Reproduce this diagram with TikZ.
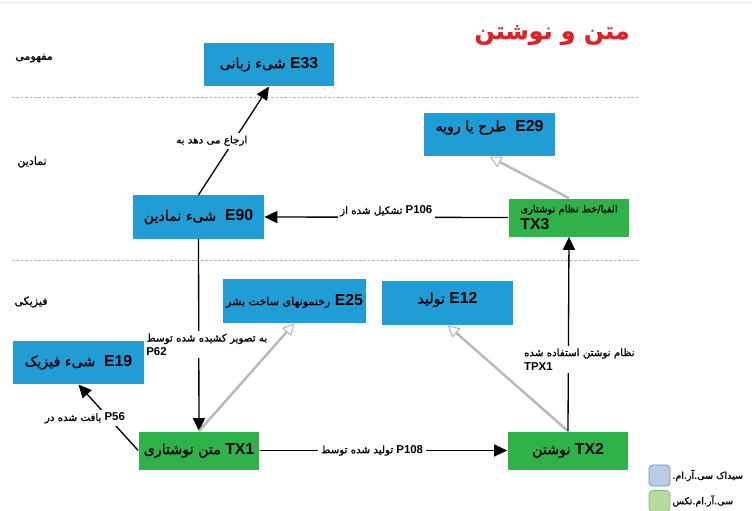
\documentclass[tikz,border=0pt]{standalone}
\usepackage{fontspec}
\setmainfont{Liberation Sans}
\newfontfamily\fa[Script=Arabic,Scale=0.9,FakeBold=0.9]{DejaVu Sans}
\TeXXeTstate=1
\usetikzlibrary{arrows.meta}
\newcommand{\per}[1]{{\fa\mdseries\beginR #1\endR}}
\definecolor{crmblue}{RGB}{33,157,214}
\definecolor{texgreen}{RGB}{47,178,74}
\definecolor{titlered}{RGB}{222,34,40}
\definecolor{keyblue}{RGB}{185,205,229}
\definecolor{keygreen}{RGB}{183,217,160}
\tikzset{
  crm/.style={fill=crmblue, minimum width=2.62cm, minimum height=0.87cm, inner sep=2pt, font=\bfseries\fontsize{9}{10}\selectfont},
  tex/.style={fill=texgreen, minimum width=2.42cm, minimum height=0.76cm, inner sep=2pt, font=\bfseries\fontsize{9}{10}\selectfont},
  rel/.style={line width=0.75pt, -{Triangle[length=0.26cm,width=0.24cm]}},
  isa/.style={draw=gray!55, line width=1.4pt, -{Triangle[open,length=0.24cm,width=0.24cm,fill=white,line width=0.6pt]}},
  lbl/.style={fill=white, inner sep=1.5pt, font=\bfseries\fontsize{6.5}{8}\selectfont},
  layer/.style={font=\fontsize{7}{9}\selectfont},
  sep/.style={gray!60, line width=0.5pt, dash pattern=on 1.5pt off 1pt},
  key/.style={rounded corners=2pt, minimum width=0.42cm, minimum height=0.42cm, inner sep=0pt}
}
\begin{document}
\begin{tikzpicture}[x=0.02cm,y=-0.02cm]
  \useasboundingbox (0,0) rectangle (752,511);
  \draw[gray!15] (0,2) -- (752,2);

  \node[text=titlered, font=\fontsize{15}{18}\selectfont] (title) at (552,35) {{\fa\bfseries\beginR متن و نوشتن\endR}};

  \draw[sep] (12,97) -- (639,97);
  \draw[sep] (12,260) -- (639,260);
  \node[layer] (concept) at (34,58) {\per{مفهومی}};
  \node[layer] (symbol) at (32,162) {\per{نمادین}};
  \node[layer] (phys) at (31,302) {\per{فیزیکی}};

  \node[crm] (e33) at (269,64.5) {\per{شیء زبانی} E33};
  \node[crm] (e90) at (198.5,217) {\per{شیء نمادین}\ \ E90};
  \node[crm, text depth=0.35cm] (e29) at (489.5,134.5) {\per{طرح یا رویه}\ \ E29};
  \node[tex, align=left] (tx3) at (569,217.5) {{\fontsize{6.3}{10}\selectfont\per{الفبا/خط نظام نوشتاری}}\\TX3};
  \node[crm] (e25) at (294.5,301) {{\fontsize{7}{10}\selectfont\per{رخنمونهای ساخت بشر}} E25};
  \node[crm, text depth=0.2cm] (e12) at (447.5,303) {\per{تولید} E12};
  \node[crm] (e19) at (78.5,362.5) {\per{شیء فیزیک}\ \ E19};
  \node[tex] (tx1) at (199,450.5) {\per{متن نوشتاری} TX1};
  \node[tex] (tx2) at (568,450.5) {\per{نوشتن} TX2};

  \draw[rel] (e90.north) -- node[lbl, pos=0.5, xshift=-0.44cm] (refers) {\per{ارجاع می دهد به}} (e33.south);
  \draw[rel] (tx3.west) -- node[lbl, yshift=0.12cm] (p106) {\per{تشکیل شده از} P106} (e90.east);
  \draw[isa] (tx3.north) -- (e29.south);
  \draw[rel] (e90.south) -- node[lbl, pos=0.55, xshift=0.16cm, align=left] (p62) {\per{به تصویر کشیده شده توسط}\\P62} (tx1.north);
  \draw[isa] (tx1.north) -- (e25.south);
  \draw[rel] (tx1.west) -- node[lbl, pos=0.49, xshift=-0.48cm] (p56) {\per{یافت شده در} P56} (e19.south);
  \draw[rel] (tx1.east) -- node[lbl, xshift=-0.23cm] (p108) {\per{تولید شده توسط} P108} (tx2.west);
  \draw[isa] (tx2.north) -- (e12.south);
  \draw[rel] (tx2.north) -- node[lbl, pos=0.37, xshift=0.22cm, align=left] (tpx1) {\per{نظام نوشتن استفاده شده}\\TPX1} (tx3.south);

  \node[key, draw={rgb,255:red,110;green,140;blue,185}, fill=keyblue] (keycrm) at (659.5,475.5) {};
  \node[key, draw={rgb,255:red,140;green,185;blue,110}, fill=keygreen] (keytex) at (659.5,501) {};
  \node[anchor=west, font=\fontsize{6}{7}\selectfont, inner sep=1pt] (keycrmtext) at (keycrm.east) {\per{سیداک سی.آر.ام.}};
  \node[anchor=west, font=\fontsize{6}{7}\selectfont, inner sep=1pt] (keytextext) at (keytex.east) {\per{سی.آر.ام.تکس}};
\end{tikzpicture}
\end{document}
